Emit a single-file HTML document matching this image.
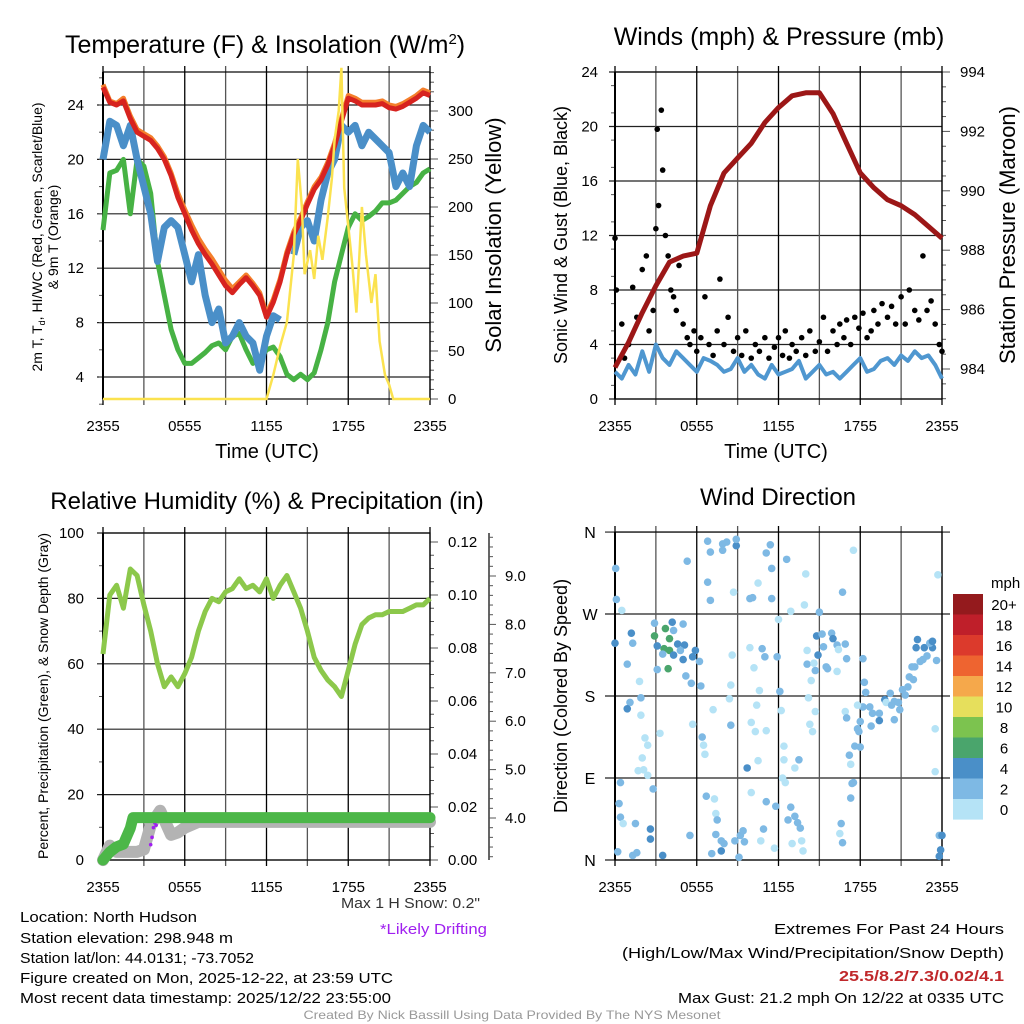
<!DOCTYPE html>
<html><head><meta charset="utf-8"><style>
html,body{margin:0;padding:0;background:#fff}
svg{display:block;font-family:"Liberation Sans",sans-serif}
</style></head><body>
<svg id="c" width="1024" height="1024" viewBox="0 0 1024 1024" xmlns="http://www.w3.org/2000/svg"></svg>
<script>
// ---- Panel 1 data (half-hourly, hours 0..24) ----
const tempRed=[25.3,24.2,24,24.3,23,22,21.7,21.4,20.8,20,18.8,17.2,16,14.8,13.8,13,12.3,11.5,10.7,10.2,10.8,11.3,10.7,10,8.4,9.5,11,13,14.5,15.5,16.7,17.8,18.5,19.6,21,22.8,24.5,24.3,24,24,24,24.1,23.8,23.7,23.9,24.2,24.5,24.9,24.7];
const tempOrange=[25.5,24.3,24.1,24.5,23.2,22.2,21.9,21.6,21,20.2,19,17.5,16.3,15.2,14.2,13.4,12.7,11.9,11.1,10.5,11,11.5,10.9,10.2,8.6,9.7,11.2,13.2,14.7,15.7,16.9,18,18.7,19.8,21.2,23,24.7,24.5,24.2,24.2,24.2,24.3,24,23.9,24.1,24.4,24.7,25.1,24.9];
const dewGreen=[14.8,19,19.2,20,16,20,19.5,17.5,12.5,10,7.5,6,5,5,5.4,5.8,6.3,6.5,6,7,7.2,6,5,5.3,6,6.2,5.5,4.2,3.8,4.2,3.8,4.3,6,8,11,13,15,16,15.5,15.8,16.2,16.8,16.8,17,17.5,18,18.3,19,19.3];
const hiBlue=[20,22.8,22.5,21,22.5,20,18,16,12.5,15,15.5,15,13,11,13,10,8,9,6.5,7,8,7,6.5,4.5,7,8.5,8.2,null,13,15,15.5,14,17,19,20,22.5,22,22.5,21,22,21.5,21,20.5,18,19,18,21,22.5,22];
const insolHours=[0,12,12.5,13,13.5,14,14.3,14.6,14.8,15.2,15.5,15.8,16.1,16.5,16.8,17,17.3,17.5,17.7,18,18.3,18.6,19,19.3,19.7,20,20.3,20.7,21,21.3,24];
const insolVals=[0,0,25,55,80,150,250,200,130,155,125,170,145,190,230,270,300,345,220,180,140,90,200,150,100,130,60,25,15,0,0];
const p1LeftTicks=[4,8,12,16,20,24];
const p1RightTicks=[0,50,100,150,200,250,300];
const timeTickLabels=["2355","0555","1155","1755","2355"];
// ---- Panel 2 data ----
const pressHourly=[984.05,984.9,985.9,986.8,987.6,987.8,987.9,989.5,990.6,991.1,991.6,992.3,992.8,993.2,993.3,993.3,992.6,991.6,990.6,990.1,989.7,989.5,989.2,988.8,988.4];
const windSpeed=[2,1.5,2.5,1.8,3.5,2,4,3,2.5,3.5,3,2.5,2,3,2.8,2.5,2,2.2,3,2,2.5,1.8,1.5,2.5,1.8,2,2.2,2.8,1.5,2,2.5,1.8,2,1.5,2,2.5,3,2,2.2,2.8,3,2.5,3.2,2.8,3.5,3,3.2,2.5,1.5];
const gustHours=[0,0.1,0.5,0.7,1,1.3,1.6,2,2.3,2.5,2.8,3,3.1,3.2,3.4,3.5,3.7,3.9,4.1,4.3,4.5,4.7,5,5.3,5.5,5.8,6,6.3,6.6,6.9,7.2,7.5,7.7,8,8.3,8.7,9,9.3,9.6,10,10.3,10.6,11,11.3,11.7,12,12.3,12.5,12.8,13,13.3,13.7,14,14.3,14.7,15,15.3,15.6,16,16.3,16.5,16.8,17,17.3,17.6,17.9,18.2,18.5,18.8,19,19.3,19.6,20,20.3,20.6,21,21.3,21.6,22,22.3,22.6,22.9,23.2,23.5,23.8,24];
const gustVals=[11.8,8,5.5,3,4,8.2,6,9.5,10.5,5,6.5,12.5,19.8,14.2,21.2,16.8,12,10.5,8,7.5,6.5,9.8,5.5,4.5,4,5,3.5,4.5,7.5,4,3.2,5,8.8,4,6,3.5,4.5,3.2,5,3,4,3.5,4.5,3,3.8,4.5,3.2,5,3,4,3.5,4.5,3.2,5,3.5,4.2,6,3.5,5,4,5.5,4.5,5.8,4,6,5.2,6.3,4.5,5,6.5,5.5,7,6,6.8,5.5,7.5,5.5,8,6.5,5.8,10.5,6.5,7.2,5.5,4,3.5];
const p2LeftTicks=[0,4,8,12,16,20,24];
const p2RightTicks=[984,986,988,990,992,994];
// ---- Panel 3 data ----
const rhVals=[63,81,84,77,89,87,78,70,60,53,56,53,57,62,70,76,80,79,82,83,86,83,84,82,86,80,84,87,82,77,70,62,58,55,53,50,58,66,72,74,75,75,76,76,76,77,78,78,80];
const precipHours=[0,0.5,1,1.5,2,2.2,24];
const precipVals=[0,0.003,0.005,0.006,0.012,0.016,0.016];
const snowHours=[0,0.5,1,2.5,3,3.5,4.2,5,5.5,6,7,24];
const snowVals=[3.13,3.43,3.3,3.3,3.35,3.85,4.15,3.65,3.7,3.8,3.92,3.92];
const driftHours=[3.5,3.6,3.7,3.8,3.9];
const driftVals=[3.45,3.6,3.8,3.9,3.85];
const p3LeftTicks=[0,20,40,60,80,100];
const p3PrecipTicks=[0,0.02,0.04,0.06,0.08,0.10,0.12];
const p3SnowTicks=[4,5,6,7,8,9];
// ---- Panel 4 data ----
const dirHours=[0.05,0.1,0.5,0,1.2,1.3,0.9,1.8,1.9,1.1,0.9,1.9,2.2,2.4,2.0,1.7,2.1,2.4,0.4,0.3,0.4,0.6,1.5,0.2,1.3,1.6,2.6,2.6,3.5,2.8,3.3,3.1,2.9,2.9,3.7,4.0,3.6,4.0,3.9,3.1,4.2,5.0,4.3,4.6,5.1,5.9,5.0,5.7,6.2,5.2,5.6,6.3,4.3,4.8,3.5,5.3,6.8,7.0,6.8,7.0,7.9,8.2,7.9,8.9,8.9,8.7,9.9,10.1,10.5,11.4,11.1,11.5,11.5,12.6,14.0,13.9,12.9,12.0,15.0,16.7,17.5,8.6,9.9,10.8,11.0,11.9,10.2,8.5,10.6,12.1,8.4,10.4,7.2,5.7,8.5,10.0,10.3,11.1,12.2,6.4,6.5,6.6,10.5,9.7,12.4,12.4,13.5,13.2,12.3,12.5,10.0,6.7,7.3,7.4,7.5,5.5,7.4,7.8,8.0,7.8,7.1,9.1,8.8,9.2,9.4,9.5,10.9,10.7,11.1,11.8,11.7,12.7,12.9,13.2,13.4,13.6,13.0,13.7,13.8,14.8,15.2,15.3,15.9,16.0,16.3,16.9,17.0,16.4,14.9,14.1,14.7,14.4,14.6,14.1,15.5,15.6,16.3,14.2,14.7,14.3,14.5,18.2,18.3,18.4,18.2,17.8,16.9,17.0,18.0,17.8,17.9,17.6,18.0,17.2,17.3,17.5,17.4,17.3,16.6,16.5,16.7,18.7,18.9,18.8,19.4,19.4,19.8,20.2,20.5,20.9,21.1,21.5,21.9,22.0,22.6,22.9,22.2,22.1,22.7,23.3,23.1,23.3,23.6,23.7,23.5,23.5,19.9,20.3,20.5,20.8,21.3,21.6,21.8,22.4,23.8,24.0,23.9,23.8];
const dirDeg=[320,286,274,238,249,238,215,196,178,173,166,159,134,126,112,98,99,93,85,62,47,40,40,9,5,8,34,23,5,78,139,209,260,246,254,243,232,230,210,235,261,259,252,237,236,230,220,223,218,202,194,191,225,230,226,328,350,338,305,285,347,349,340,345,352,294,287,288,304,346,337,320,287,330,314,280,273,264,272,294,340,225,233,232,223,223,211,192,186,185,177,170,165,149,148,151,141,142,164,135,126,116,109,101,125,110,110,101,90,85,74,70,67,51,44,27,28,21,18,10,7,3,21,27,32,20,34,21,64,59,13,44,58,48,41,35,18,21,10,246,248,234,249,243,236,237,221,231,225,215,208,197,216,230,212,210,207,178,163,149,141,221,195,184,168,170,163,156,152,144,141,125,124,115,105,85,84,68,40,29,19,168,161,147,161,153,176,183,174,165,187,190,198,212,220,224,242,233,233,233,238,240,219,313,144,97,173,170,154,173,181,201,212,218,27,27,11,4];
const dirSpeed=[2,2,0,4,4,2,2,0,2,2,4,0,0,0,0,0,0,0,2,2,2,0,2,2,2,2,4,4,4,2,0,2,2,6,6,6,6,6,6,4,4,2,2,4,4,4,4,4,2,2,2,2,4,2,2,2,2,2,2,2,2,2,2,4,2,0,2,2,0,2,2,2,2,2,0,0,0,0,2,2,0,0,0,2,2,2,0,0,0,2,0,0,0,0,2,0,0,0,0,2,0,0,0,4,0,0,2,0,0,0,0,2,0,0,2,2,2,2,2,4,2,2,2,2,2,2,2,0,2,2,0,2,2,2,2,2,0,0,0,4,2,2,2,4,2,2,2,0,4,2,2,0,0,0,2,2,0,0,0,0,0,2,2,2,2,0,0,2,2,2,2,2,2,2,0,2,2,2,2,0,2,2,2,2,2,4,4,2,2,2,2,2,2,2,2,2,4,4,4,4,2,4,2,0,0,0,0,2,2,2,2,2,2,2,2,4,4,4,2];
const dirTickLabels=["N","E","S","W","N"];
const speedBinLabels=["20+","18","16","14","12","10","8","6","4","2","0"];
const speedBinColors=["#941a1d","#bf1f2a","#dc3a2c","#ee6430","#f5a84b","#e6df5c","#7cc34f","#4aa56c","#4a8fc8","#7eb9e4","#b5e3f6"];

// ---- helpers ----
const svg=document.getElementById('c');
const NS='http://www.w3.org/2000/svg';
function mk(tag,attrs,parent){const e=document.createElementNS(NS,tag);for(const k in attrs)e.setAttribute(k,attrs[k]);(parent||svg).appendChild(e);return e;}
function txt(s,x,y,size,anchor,extra,parent){const e=mk('text',Object.assign({x:x,y:y,'font-size':size,'text-anchor':anchor||'start',fill:'#000'},extra||{}),parent);e.textContent=s;return e;}
function pathD(xs,ys){let d='',pen=false;for(let i=0;i<xs.length;i++){if(ys[i]==null){pen=false;continue;}d+=(pen?'L':'M')+xs[i].toFixed(1)+' '+ys[i].toFixed(1);pen=true;}return d;}
function halfHours(n){const a=[];for(let i=0;i<n;i++)a.push(i*0.5);return a;}

function frame(L,R,T,B,g,nameP){
  for(let i=0;i<=8;i++){const x=L+i*(R-L)/8;mk('line',{x1:x,y1:T-6,x2:x,y2:B+6,stroke:(i%2?'#555':'#000'),'stroke-width':1.3},g);}
  mk('rect',{x:L,y:T,width:R-L,height:B-T,fill:'none',stroke:'#000','stroke-width':1.2},g);
  mk('line',{x1:L,y1:T,x2:L,y2:B,stroke:'#000','stroke-width':2},g);
  timeTickLabels.forEach((s,i)=>{const t=txt(s,L+i*(R-L)/4,B+32,15,'middle',{},g);});
}

// ===== Panel 1 =====
(function(){
const L=103,R=430,T=72,B=399;
const g=mk('g',{});
const x=h=>L+h/24*(R-L), yT=v=>377-(v-4)*13.6, yI=v=>399-v*0.96;
p1LeftTicks.forEach(v=>{mk('line',{x1:L-6,y1:yT(v),x2:R,y2:yT(v),stroke:'#222','stroke-width':1.2},g);txt(String(v),84,yT(v)+5,15,'end',{},g);});
for(let v=2;v<=26;v+=2)mk('line',{x1:L-4,y1:yT(v),x2:L,y2:yT(v),stroke:'#555'},g);
for(let v=0;v<=340;v+=10)mk('line',{x1:R,y1:yI(v),x2:R+(v%50?4:8),y2:yI(v),stroke:'#555'},g);
p1RightTicks.forEach(v=>txt(String(v),448,yI(v)+5,15,'start',{},g));
frame(L,R,T,B,g,'temp');
const hh=halfHours(49).map(x);
const o=mk('path',{d:pathD(hh,tempOrange.map(yT)),fill:'none',stroke:'#f47f2b','stroke-width':5,'stroke-linejoin':'round'},g);

const gr=mk('path',{d:pathD(hh,dewGreen.map(yT)),fill:'none',stroke:'#47b244','stroke-width':5,'stroke-linejoin':'round'},g);

const bl=mk('path',{d:pathD(hh,hiBlue.map(v=>v==null?null:yT(v))),fill:'none',stroke:'#4a8fc8','stroke-width':7,'stroke-linejoin':'round'},g);

const rd=mk('path',{d:pathD(hh,tempRed.map(yT)),fill:'none',stroke:'#d7231f','stroke-width':5,'stroke-linejoin':'round'},g);

const yl=mk('path',{d:pathD(insolHours.map(x),insolVals.map(yI)),fill:'none',stroke:'#fbe24f','stroke-width':2.5},g);

const t=txt('Temperature (F) & Insolation (W/m',65,53,25,'start',{},g);const sp=mk('tspan',{dy:-9,'font-size':15},t);sp.textContent='2';const sp2=mk('tspan',{dy:9},t);sp2.textContent=')';

const a=txt('2m T, T',0,0,14,'middle',{transform:'translate(42,237) rotate(-90)'},g);
const s1=mk('tspan',{dy:3,'font-size':9},a);s1.textContent='d';const s2=mk('tspan',{dy:-3},a);s2.textContent=', HI/WC (Red, Green, Scarlet/Blue)';

txt('& 9m T (Orange)',0,0,14,'middle',{transform:'translate(58,237) rotate(-90)'},g);
const rt=txt('Solar Insolation (Yellow)',0,0,22,'middle',{transform:'translate(501,235) rotate(-90)'},g);

const xt=txt('Time (UTC)',267,458,20,'middle',{},g);
})();

// ===== Panel 2 =====
(function(){
const L=615,R=942,T=72,B=399;
const g=mk('g',{});
const x=h=>L+h/24*(R-L), yW=v=>399-v*13.625, yP=v=>369-(v-984)*29.7;
p2LeftTicks.forEach(v=>{mk('line',{x1:L-6,y1:yW(v),x2:R,y2:yW(v),stroke:'#222','stroke-width':1.2},g);txt(String(v),598,yW(v)+5,15,'end',{},g);});
for(let v=983;v<=994;v+=0.5)mk('line',{x1:R,y1:yP(v),x2:R+(v%2==0?8:4),y2:yP(v),stroke:'#555'},g);
p2RightTicks.forEach(v=>txt(String(v),960,yP(v)+5,15,'start',{},g));
for(let v=1;v<24;v+=2)mk('line',{x1:L-4,y1:yW(v),x2:L,y2:yW(v),stroke:'#555'},g);
frame(L,R,T,B,g,'wind');
const bl=mk('path',{d:pathD(halfHours(49).map(x),windSpeed.map(yW)),fill:'none',stroke:'#4f97d0','stroke-width':4,'stroke-linejoin':'round'},g);

gustHours.forEach((h,i)=>{const c=mk('circle',{cx:x(h),cy:yW(gustVals[i]),r:2.8,fill:'#000'},g);

});
const ph=pressHourly.map((v,i)=>x(i));
const pr=mk('path',{d:pathD(ph,pressHourly.map(yP)),fill:'none',stroke:'#9c1717','stroke-width':5,'stroke-linejoin':'round'},g);

const t=txt('Winds (mph) & Pressure (mb)',779,45,25,'middle',{},g);
const a=txt('Sonic Wind & Gust (Blue, Black)',0,0,18,'middle',{transform:'translate(567,235) rotate(-90)'},g);
const b=txt('Station Pressure (Maroon)',0,0,22,'middle',{transform:'translate(1015,235) rotate(-90)'},g);
const xt=txt('Time (UTC)',776,458,20,'middle',{},g);
})();

// ===== Panel 3 =====
(function(){
const L=103,R=430,T=533,B=860;
const g=mk('g',{});
const x=h=>L+h/24*(R-L), yR=v=>860-v*3.27, yPr=v=>860-v*2650, yS=v=>818-(v-4)*48.4;
p3LeftTicks.forEach(v=>{mk('line',{x1:L-6,y1:yR(v),x2:R,y2:yR(v),stroke:'#222','stroke-width':1.2},g);txt(String(v),84,yR(v)+5,15,'end',{},g);});
for(let v=10;v<100;v+=20)mk('line',{x1:L-4,y1:yR(v),x2:L,y2:yR(v),stroke:'#555'},g);
for(let v=0;v<=0.1201;v+=0.005)mk('line',{x1:R,y1:yPr(v),x2:R+(Math.round(v*1000)%20==0?8:4),y2:yPr(v),stroke:'#555'},g);
p3PrecipTicks.forEach(v=>txt(v.toFixed(2),448,yPr(v)+5,15,'start',{},g));
mk('line',{x1:489,y1:533,x2:489,y2:860,stroke:'#333','stroke-width':1.5},g);
for(let v=3.2;v<=9.9;v+=0.2)mk('line',{x1:489,y1:yS(v),x2:489+(Math.abs(v-Math.round(v))<0.01?7:4),y2:yS(v),stroke:'#555'},g);
p3SnowTicks.forEach(v=>txt(v.toFixed(1),505,yS(v)+5,15,'start',{},g));
frame(L,R,T,B,g,'rh');
const rh=mk('path',{d:pathD(halfHours(49).map(x),rhVals.map(yR)),fill:'none',stroke:'#8cc84b','stroke-width':5,'stroke-linejoin':'round'},g);

const sn=mk('path',{d:pathD(snowHours.map(x),snowVals.map(yS)),fill:'none',stroke:'#b3b3b3','stroke-width':12,'stroke-linejoin':'round','stroke-linecap':'round'},g);

driftHours.forEach((h,i)=>{const c=mk('circle',{cx:x(h),cy:yS(driftVals[i]),r:1.8,fill:'#a020f0'},g);

});
const pr=mk('path',{d:pathD(precipHours.map(x),precipVals.map(yPr)),fill:'none',stroke:'#4cb748','stroke-width':11,'stroke-linejoin':'round','stroke-linecap':'round'},g);

const t=txt('Relative Humidity (%) & Precipitation (in)',267,509,24,'middle',{},g);
const a=txt('Percent, Precipitation (Green), & Snow Depth (Gray)',0,0,14,'middle',{transform:'translate(48,696) rotate(-90)'},g);
})();

// ===== Panel 4 =====
(function(){
const L=615,R=942,T=532,B=860;
const g=mk('g',{});
const x=h=>L+h/24*(R-L), yD=d=>860-d*0.911;
dirTickLabels.forEach((s,i)=>{const y=yD(i*90);mk('line',{x1:L-10,y1:y,x2:R+8,y2:y,stroke:'#222','stroke-width':1.2},g);txt(s,590,y+6,16,'middle',{},g);});
frame(L,R,T,B,g,'dir');
dirHours.forEach((h,i)=>{const c=mk('circle',{cx:x(h),cy:yD(dirDeg[i]),r:3.8,fill:speedBinColors[10-Math.min(10,Math.floor(dirSpeed[i]/2))]},g);

});
const t=txt('Wind Direction',778,505,24,'middle',{},g);
const a=txt('Direction (Colored By Speed)',0,0,18,'middle',{transform:'translate(567,696) rotate(-90)'},g);
const lg=mk('g',{},g);
txt('mph',991,588,15,'start',{},lg);
speedBinColors.forEach((c,i)=>{mk('rect',{x:953,y:594+i*20.5,width:30,height:20.6,fill:c},lg);txt(speedBinLabels[i],1004,594+i*20.5+16,15,'middle',{},lg);});
})();

// ===== Footer text =====
const info=[["Location: North Hudson",922,177],["Station elevation: 298.948 m",943,213],["Station lat/lon: 44.0131; -73.7052",963,234],["Figure created on Mon, 2025-12-22, at 23:59 UTC",983,373],["Most recent data timestamp: 2025/12/22 23:55:00",1003,371]];
info.forEach((r,i)=>{const t=txt(r[0],20,r[1],15,'start',{textLength:r[2],lengthAdjust:'spacingAndGlyphs'});});
let t1=txt('Max 1 H Snow: 0.2"',480,908,15,'end',{fill:'#333',textLength:139,lengthAdjust:'spacingAndGlyphs'});
let t2=txt('*Likely Drifting',487,934,15,'end',{fill:'#a020f0',textLength:107,lengthAdjust:'spacingAndGlyphs'});
const ext=[["Extremes For Past 24 Hours",934,230,'#000','normal'],["(High/Low/Max Wind/Precipitation/Snow Depth)",958,382,'#000','normal'],["25.5/8.2/7.3/0.02/4.1",981,165,'#c0282b','bold'],["Max Gust: 21.2 mph On 12/22 at 0335 UTC",1003,326,'#000','normal']];
ext.forEach(r=>{const t=txt(r[0],1004,r[1],15,'end',{fill:r[3],'font-weight':r[4],textLength:r[2],lengthAdjust:'spacingAndGlyphs'});});
let ft=txt('Created By Nick Bassill Using Data Provided By The NYS Mesonet',512,1019,12,'middle',{fill:'#999',textLength:417,lengthAdjust:'spacingAndGlyphs'});
</script>
</body></html>
